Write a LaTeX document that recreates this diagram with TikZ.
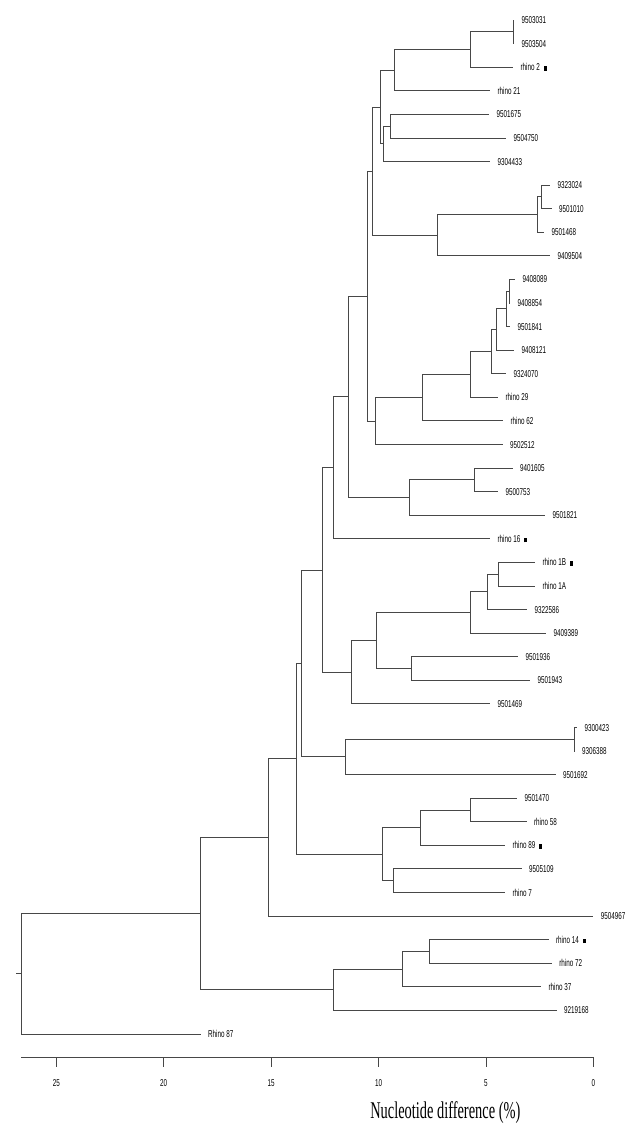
\documentclass[tikz,border=0pt]{standalone}
\usepackage{fontspec}
\usepackage{graphicx}
\usetikzlibrary{calc}
\newfontfamily\labfont{Liberation Sans}
\newfontfamily\titfont{Liberation Serif}
\newcommand\lab[1]{\scalebox{0.63}[1]{#1}}
\newcommand\mk{\hspace{4pt}\rule{3.2pt}{4.5pt}}
\tikzset{
  br/.style={draw=black!72, line width=0.8pt},
  leaf/.style={anchor=west, inner xsep=7.5pt, inner ysep=0pt, outer sep=0pt,
    font=\labfont\fontsize{10}{12}\selectfont, text height=7.2pt, text depth=0pt},
  ticklab/.style={inner sep=0pt, font=\labfont\fontsize{10}{12}\selectfont, text height=7.2pt, text depth=0pt},
}
\newcommand\lf[4]{\node[leaf] (#1) at (#2,{-20-23.58*(#3-1)}) {\lab{#4}};}
\newcommand\lfm[4]{\node[leaf] (#1) at (#2,{-20-23.58*(#3-1)}) {\lab{#4}\mk};}
\newcommand\jn[4]{%
  \coordinate (#1m) at ($(#3)!0.5!(#4)$);
  \coordinate (#1) at (#2,0 |- #1m);
  \draw[br] (#1) |- (#3);
  \draw[br] (#1) |- (#4);}
\begin{document}
\begin{tikzpicture}[x=1pt,y=1pt]
\useasboundingbox (0,0) rectangle (642,-1130);
\lf{l1}{514}{1}{9503031}
\lf{l2}{514}{2}{9503504}
\lfm{l3}{513}{3}{rhino 2}
\lf{l4}{490}{4}{rhino 21}
\lf{l5}{489}{5}{9501675}
\lf{l6}{506}{6}{9504750}
\lf{l7}{490}{7}{9304433}
\lf{l8}{550}{8}{9323024}
\lf{l9}{551.5}{9}{9501010}
\lf{l10}{544}{10}{9501468}
\lf{l11}{550}{11}{9409504}
\lf{l12}{515}{12}{9408089}
\lf{l13}{510}{13}{9408854}
\lf{l14}{510}{14}{9501841}
\lf{l15}{514}{15}{9408121}
\lf{l16}{506}{16}{9324070}
\lf{l17}{498}{17}{rhino 29}
\lf{l18}{503}{18}{rhino 62}
\lf{l19}{502.7}{19}{9502512}
\lf{l20}{512.7}{20}{9401605}
\lf{l21}{498}{21}{9500753}
\lf{l22}{545}{22}{9501821}
\lfm{l23}{490}{23}{rhino 16}
\lfm{l24}{535}{24}{rhino 1B}
\lf{l25}{535}{25}{rhino 1A}
\lf{l26}{527}{26}{9322586}
\lf{l27}{546}{27}{9409389}
\lf{l28}{518}{28}{9501936}
\lf{l29}{530}{29}{9501943}
\lf{l30}{490}{30}{9501469}
\lf{l31}{577}{31}{9300423}
\lf{l32}{574.5}{32}{9306388}
\lf{l33}{555.5}{33}{9501692}
\lf{l34}{517}{34}{9501470}
\lf{l35}{526.5}{35}{rhino 58}
\lfm{l36}{505}{36}{rhino 89}
\lf{l37}{521.7}{37}{9505109}
\lf{l38}{505}{38}{rhino 7}
\lf{l39}{593.3}{39}{9504967}
\lfm{l40}{548.5}{40}{rhino 14}
\lf{l41}{551.8}{41}{rhino 72}
\lf{l42}{541}{42}{rhino 37}
\lf{l43}{556.7}{43}{9219168}
\lf{l44}{200.6}{44}{Rhino 87}
\jn{A1}{513.3}{l1}{l2}
\jn{A2}{470.7}{A1}{l3}
\jn{A3}{394.3}{A2}{l4}
\jn{A4}{390}{l5}{l6}
\jn{A5}{383.3}{A4}{l7}
\jn{A6}{380.7}{A3}{A5}
\jn{B1}{541.7}{l8}{l9}
\jn{B2}{537.3}{B1}{l10}
\jn{B3}{437.3}{B2}{l11}
\jn{W}{372.7}{A6}{B3}
\jn{C1}{509.3}{l12}{l13}
\jn{C2}{506.3}{C1}{l14}
\jn{C3}{496}{C2}{l15}
\jn{C4}{491.7}{C3}{l16}
\jn{C5}{470}{C4}{l17}
\jn{C6}{422.7}{C5}{l18}
\jn{X1}{375}{C6}{l19}
\jn{Y1}{367.7}{W}{X1}
\jn{D1}{474.3}{l20}{l21}
\jn{D2}{409.3}{D1}{l22}
\jn{V}{348.3}{Y1}{D2}
\jn{R}{333.3}{V}{l23}
\jn{E1}{498.3}{l24}{l25}
\jn{E2}{487.3}{E1}{l26}
\jn{E3}{470}{E2}{l27}
\jn{F1}{411.7}{l28}{l29}
\jn{T}{376}{E3}{F1}
\jn{S}{351.7}{T}{l30}
\jn{P}{322.3}{R}{S}
\jn{G1}{574.3}{l31}{l32}
\jn{Q}{345.3}{G1}{l33}
\jn{N}{301.3}{P}{Q}
\jn{H1}{470}{l34}{l35}
\jn{H2}{420.7}{H1}{l36}
\jn{I1}{393.3}{l37}{l38}
\jn{H3}{382.7}{H2}{I1}
\jn{M}{296.3}{N}{H3}
\jn{L}{268.5}{M}{l39}
\jn{J1}{429}{l40}{l41}
\jn{J2}{402.4}{J1}{l42}
\jn{J3}{333.6}{J2}{l43}
\jn{K}{200.6}{L}{J3}
\jn{Rt}{21.3}{K}{l44}
\coordinate (stub) at (15.5,0 |- Rt);
\draw[br] (Rt) -- (stub);
% axis
\coordinate (ax0) at (593.3,-1057.3);
\coordinate (ax1) at (21.3,-1057.3);
\draw[br] (ax1) -- (ax0);
\foreach \d in {0,5,...,25} {
  \draw[br] ({593.3-21.48*\d},-1057.3) -- ++(0,-9.4);
  \node[ticklab] (t\d) at ({593.3-21.48*\d},-1082.7) {\lab{\d}};
}
\node[inner sep=0pt, font=\titfont\fontsize{24}{28}\selectfont] (title) at (445.3,-1112.5) {\scalebox{0.6}[1]{Nucleotide difference (\%)}};
\end{tikzpicture}
\end{document}
